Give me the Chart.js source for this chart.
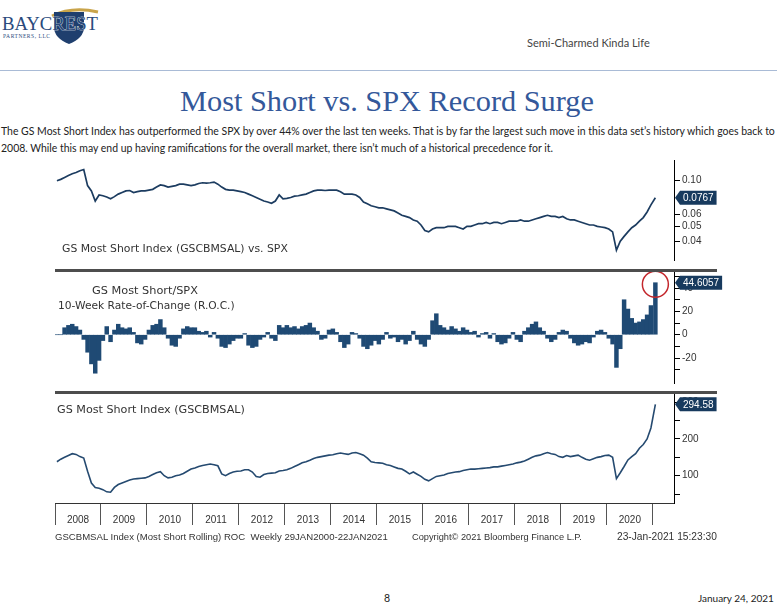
<!DOCTYPE html>
<html><head><meta charset="utf-8">
<script src="https://cdn.jsdelivr.net/npm/chart.js@4/dist/chart.umd.min.js"></script>
<style>
html,body{margin:0;padding:0;background:#fff;}
body{width:779px;height:614px;position:relative;overflow:hidden;font-family:Lato,'Liberation Sans',sans-serif;}
.abs{position:absolute;white-space:nowrap;}
canvas{position:absolute;left:0;}
.sep{position:absolute;left:55px;width:662px;height:3px;background:#4d4d4d;z-index:3;}
.pl{position:absolute;white-space:nowrap;font-family:'DejaVu Sans',sans-serif;font-size:10px;color:#333;line-height:14px;z-index:4;}
.bb{position:absolute;white-space:pre;font-family:'Liberation Sans',sans-serif;font-size:10px;color:#333;line-height:14px;}
</style></head><body>

<svg class="abs" style="left:0;top:0" width="110" height="48">
  <path d="M52 16 Q72 6 98 12" stroke="#c9a44a" stroke-width="3" fill="none"/>
  <path d="M54 12 L84 12 L84 27 Q84 38 69 44 Q54 38 54 27 Z" fill="#1f3f6e"/>
  <text x="2" y="30" font-family="Liberation Serif" font-size="19" fill="#2a4a7c" stroke="#fff" stroke-width="0.6" paint-order="stroke" textLength="96" lengthAdjust="spacingAndGlyphs">BAYCREST</text>
  <text x="3" y="38" font-family="Liberation Serif" font-size="5.5" fill="#2a4a7c" textLength="47">PARTNERS, LLC</text>
</svg>

<div id="hdr" class="abs" style="left:527px;top:36px;font-size:11px;line-height:14px;color:#444;">Semi-Charmed Kinda Life</div>
<div class="abs" style="left:0;top:70px;width:777px;height:1px;background:#a9bbd6;"></div>
<div id="ttl" class="abs" style="left:180px;top:86px;font-family:'Liberation Serif',serif;font-size:30px;line-height:30px;color:#34589a;">Most Short vs. SPX Record Surge</div>
<div id="par" class="abs" style="left:1px;top:123px;font-size:10.5px;line-height:17px;color:#222;"><span id="pl1">The GS Most Short Index has outperformed the SPX by over 44% over the last ten weeks. That is by far the largest such move in this data set’s history which goes back to</span><br>2008. While this may end up having ramifications for the overall market, there isn’t much of a historical precedence for it.</div>

<canvas id="c1" width="730" height="118" style="top:150px"></canvas>
<canvas id="c2" width="730" height="129" style="top:262px"></canvas>
<canvas id="c3" width="730" height="159" style="top:384px"></canvas>

<div class="sep" style="top:269px"></div>
<div class="sep" style="top:391px"></div>

<div id="l1" class="pl" style="left:62px;top:242px;">GS Most Short Index (GSCBMSAL) vs. SPX</div>
<div id="l2" class="pl" style="left:92px;top:284px;">GS Most Short/SPX</div>
<div id="l3" class="pl" style="left:58px;top:299px;">10-Week Rate-of-Change (R.O.C.)</div>
<div id="l4" class="pl" style="left:57px;top:403px;">GS Most Short Index (GSCBMSAL)</div>

<div id="f1" class="bb" style="left:55px;top:530px;">GSCBMSAL Index (Most Short Rolling) ROC  Weekly 29JAN2000-22JAN2021</div>
<div id="f2" class="bb" style="left:412px;top:530px;">Copyright© 2021 Bloomberg Finance L.P.</div>
<div id="f3" class="bb" style="left:617px;top:530px;">23-Jan-2021 15:23:30</div>

<div class="abs" style="left:384px;top:591px;font-size:10.5px;line-height:14px;color:#222;">8</div>
<div id="ft" class="abs" style="left:698px;top:591px;font-size:10.5px;line-height:14px;color:#222;">January 24, 2021</div>

<script>
// ---- DATA (monthly readings, Jan 2008 .. Dec 2020, plus 22 Jan 2021) ----
const yearTicks = [2008,2009,2010,2011,2012,2013,2014,2015,2016,2017,2018,2019,2020,2021];

const ratio = [
  0.099,0.101,0.104,0.107,0.110,0.112,0.115,0.117,0.092,0.085,0.073,0.080, // 2008
  0.079,0.0775,0.0755,0.078,0.081,0.083,0.085,0.0855,0.083,0.084,0.085,0.085, // 2009
  0.086,0.087,0.090,0.093,0.092,0.090,0.091,0.092,0.094,0.094,0.093,0.092, // 2010
  0.093,0.095,0.096,0.0955,0.096,0.097,0.094,0.090,0.087,0.086,0.086,0.085, // 2011
  0.084,0.083,0.081,0.079,0.077,0.075,0.073,0.072,0.0706,0.073,0.080,0.0755, // 2012
  0.076,0.077,0.0785,0.079,0.080,0.081,0.083,0.085,0.086,0.086,0.0855,0.086, // 2013
  0.086,0.086,0.084,0.081,0.081,0.081,0.080,0.077,0.072,0.070,0.068,0.067, // 2014
  0.066,0.066,0.065,0.064,0.063,0.061,0.059,0.058,0.057,0.055,0.054,0.051, // 2015
  0.047,0.046,0.048,0.049,0.049,0.049,0.050,0.050,0.050,0.049,0.048,0.050, // 2016
  0.050,0.051,0.052,0.052,0.053,0.052,0.053,0.053,0.052,0.053,0.054,0.054, // 2017
  0.054,0.055,0.054,0.054,0.055,0.056,0.057,0.058,0.059,0.058,0.058,0.057, // 2018
  0.058,0.056,0.055,0.055,0.054,0.053,0.052,0.051,0.051,0.050,0.0495,0.049, // 2019
  0.048,0.046,0.035,0.040,0.043,0.046,0.049,0.051,0.054,0.057,0.062,0.069, // 2020
  0.0767 // Jan 2021
];

const roc = [
  0,0,6,8,9,7,4,-4,-15,-25,-33,-22,        // 2008
  -5,7,-6,4,9,6,5,6,2,-7,-8,-4,            // 2009
  4,8,9,13,6,-3,-9,-10,-3,5,7,6,           // 2010
  6,3,2,3,-2,2,-3,-10,-11,-8,-5,-3,        // 2011
  -3,1,-9,-11,-10,-4,-2,2,-3,-5,8,6,       // 2012
  8,6,7,5,7,8,10,6,3,-4,-3,4,              // 2013
  5,2,-6,-11,-8,2,1,-3,-10,-12,-9,-5,      // 2014
  -8,-4,2,-3,-2,-6,-4,-8,-5,3,-4,-8,       // 2015
  -10,-4,12,18,8,6,4,7,5,3,6,4,            // 2016
  2,3,-2,1,2,-3,1,-6,-8,-7,-3,2,           // 2017
  -4,-6,3,6,9,11,6,3,-3,-6,-4,2,           // 2018
  4,3,-3,-7,-9,-8,-6,-7,-2,3,4,2,          // 2019
  -3,-8,-28,-12,30,22,14,10,11,13,17,25,   // 2020
  44.6057                                   // Jan 2021
];

const gsms = [
  138,145,150,155,160,158,152,148,112,80,68,66,    // 2008
  62,56,55,68,76,80,84,88,91,92,93,94,             // 2009
  98,103,108,111,100,94,96,100,102,106,112,118,    // 2010
  121,125,128,130,132,130,127,105,100,106,110,112, // 2011
  113,116,116,110,98,96,103,106,107,108,113,114,   // 2012
  116,120,125,130,135,138,142,147,150,152,154,156, // 2013
  157,160,162,160,158,162,163,160,156,148,138,136, // 2014
  135,134,130,128,124,120,118,112,105,110,104,98,  // 2015
  90,86,92,98,100,102,106,108,110,111,114,116,     // 2016
  118,118,119,120,121,122,124,124,126,128,130,132, // 2017
  135,137,140,145,150,154,156,160,163,160,158,152, // 2018
  150,155,152,154,156,150,145,142,146,150,152,155, // 2019
  156,150,92,108,125,143,152,160,175,185,200,230,  // 2020
  294.58                                           // Jan 2021
];

// dates: mid-month positions in decimal years, final point 22 Jan 2021
const dates = [];
for (let y = 2008; y <= 2020; y++) for (let m = 0; m < 12; m++) dates.push(+(y + (m + 0.5) / 12).toFixed(4));
dates.push(2021.055);

const X_MIN = 2008, X_MAX = 2021.46;
const NAVY = '#1c3c60';
const FONT = {family: 'Liberation Sans', size: 10};
const pts = arr => arr.map((v, i) => ({x: dates[i], y: v}));

const lastBox = {
  id: 'lastBox',
  afterDraw(chart) {
    const d = chart.data.datasets[0].data;
    const last = d[d.length - 1].y;
    const y = chart.scales.y.getPixelForValue(last);
    const ctx = chart.ctx, a = chart.chartArea;
    ctx.save();
    ctx.font = '10px "Liberation Sans"';
    const txt = String(last);
    const w = ctx.measureText(txt).width + 6, h = 14, x0 = a.right + 6;
    ctx.fillStyle = '#173a5e';
    ctx.beginPath();
    ctx.moveTo(a.right + 1, y);
    ctx.lineTo(x0, y - h / 2); ctx.lineTo(x0 + w, y - h / 2);
    ctx.lineTo(x0 + w, y + h / 2); ctx.lineTo(x0, y + h / 2);
    ctx.closePath(); ctx.fill();
    ctx.fillStyle = '#fff'; ctx.textBaseline = 'middle';
    ctx.fillText(txt, x0 + 3, y + 0.5);
    ctx.restore();
  }
};

const redCircle = {
  id: 'redCircle',
  afterDatasetsDraw(chart) {
    const d = chart.data.datasets[0].data, p = d[d.length - 1];
    const x = chart.scales.x.getPixelForValue(p.x), y = chart.scales.y.getPixelForValue(p.y);
    const ctx = chart.ctx;
    ctx.save();
    ctx.strokeStyle = '#c3272c'; ctx.lineWidth = 1.5;
    ctx.beginPath(); ctx.arc(x, y + 1.5, 13, 0, Math.PI * 2); ctx.stroke();
    ctx.restore();
  }
};

function yAxis(extra) {
  return Object.assign({
    position: 'right',
    grid: {drawOnChartArea: false, drawTicks: true, tickLength: 6, color: '#000'},
    border: {display: true, color: '#000', width: 1},
    ticks: {color: '#333', font: FONT, padding: 2, autoSkip: false},
    afterFit: s => { s.width = 56; }
  }, extra);
}
function hiddenX() {
  return {type: 'linear', min: X_MIN, max: X_MAX, display: false, offset: false};
}
const common = {
  responsive: false, animation: false,
  layout: {padding: {left: 55, right: 0, top: 10, bottom: 0}},
  plugins: {legend: {display: false}, tooltip: {enabled: false}}
};

// Panel 1: ratio (log)
new Chart(document.getElementById('c1'), {
  type: 'line',
  data: {datasets: [{data: pts(ratio), borderColor: NAVY, borderWidth: 1.7, pointRadius: 0, tension: 0}]},
  options: Object.assign({}, common, {
    scales: {
      x: hiddenX(),
      y: yAxis({
        type: 'logarithmic', min: 0.0302, max: 0.135,
        afterBuildTicks: s => { s.ticks = [0.04, 0.05, 0.06, 0.10].map(v => ({value: v})); },
        ticks: {color: '#333', font: FONT, padding: 2, autoSkip: false, callback: v => Number(v).toFixed(2)}
      })
    }
  }),
  plugins: [lastBox]
});

// Panel 2: ROC bars
new Chart(document.getElementById('c2'), {
  type: 'bar',
  data: {datasets: [{data: pts(roc), backgroundColor: '#1f4a74', borderWidth: 0, barPercentage: 1, categoryPercentage: 1}]},
  options: Object.assign({}, common, {
    scales: {
      x: hiddenX(),
      y: yAxis({
        type: 'linear', min: -41.4, max: 53.8,
        afterBuildTicks: s => { s.ticks = [-30,-20,-10,0,10,20,30,40,50].map(v => ({value: v})); },
        ticks: {color: '#333', font: FONT, padding: 2, autoSkip: false, callback: v => (v % 20 === 0 ? String(v) : '')}
      })
    }
  }),
  plugins: [redCircle, lastBox]
});

// Panel 3: GS Most Short index
new Chart(document.getElementById('c3'), {
  type: 'line',
  data: {datasets: [{data: pts(gsms), borderColor: '#254a70', borderWidth: 1.6, pointRadius: 0, tension: 0}]},
  options: Object.assign({}, common, {
    scales: {
      x: {
        type: 'linear', min: X_MIN, max: X_MAX, offset: false,
        afterBuildTicks: s => { s.ticks = yearTicks.map(v => ({value: v})); },
        grid: {drawOnChartArea: false, drawTicks: true, tickLength: 22, color: '#555'},
        border: {display: true, color: '#333', width: 1},
        ticks: {autoSkip: false, maxRotation: 0, labelOffset: 23, padding: -11, color: '#333', font: FONT,
                callback: v => (v < 2021 ? String(v) : '')},
        afterFit: s => { s.height = 40; }
      },
      y: yAxis({
        type: 'linear', min: 25.6, max: 322.6,
        afterBuildTicks: s => { s.ticks = [50,100,150,200,250,300].map(v => ({value: v})); },
        ticks: {color: '#333', font: FONT, padding: 2, autoSkip: false, callback: v => (v % 100 === 0 ? String(v) : '')}
      })
    }
  }),
  plugins: [lastBox]
});

// fit text widths to the reference layout
function fit(id, w, target) {
  const el = document.getElementById(id);
  const cur = el.getBoundingClientRect().width;
  const t = target ? document.getElementById(target) : el;
  const fs = parseFloat(getComputedStyle(t).fontSize);
  t.style.fontSize = (fs * w / cur) + 'px';
}
fit('hdr', 123); fit('ttl', 414); fit('pl1', 775, 'par'); fit('ft', 76);
fit('l1', 226); fit('l2', 106); fit('l3', 177); fit('l4', 188);
fit('f1', 333); fit('f2', 170); fit('f3', 100);
</script>
</body></html>
